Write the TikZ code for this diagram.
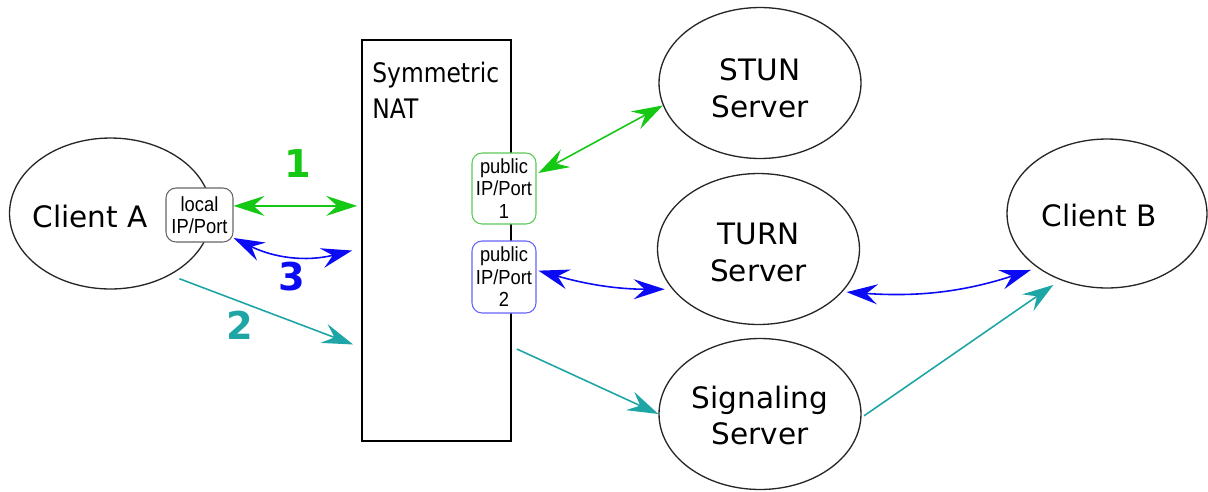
\documentclass[tikz,border=0pt]{standalone}
\usepackage{fontspec}
\setmainfont{DejaVu Sans}
\newfontfamily\natfont{DejaVu Sans}[FakeStretch=0.87]
\newfontfamily\portfont{Liberation Sans}[FakeStretch=0.9]
\usepackage{tikz}
\usetikzlibrary{shapes.geometric}
\usetikzlibrary{arrows.meta,calc}
\definecolor{natgreen}{RGB}{20,200,20}
\definecolor{natblue}{RGB}{10,10,245}
\definecolor{natteal}{RGB}{30,165,165}
\definecolor{pubgreen}{RGB}{90,200,90}
\definecolor{pubblue}{RGB}{100,100,250}

\begin{document}
\begin{tikzpicture}[x=0.02cm, y=-0.02cm,
  peer/.style={draw=black!85, line width=0.75pt, ellipse, minimum width=4.04cm, minimum height=3.02cm, inner sep=0pt},
  peertext/.style={inner sep=0pt, align=center, font=\fontsize{16.8}{21}\selectfont},
  port/.style={draw, line width=0.6pt, rounded corners=0.2cm, fill=white, inner sep=0pt, align=center, font=\portfont\fontsize{11.6}{12.8}\selectfont},
  link/.style={line width=0.9pt, >={Stealth[length=0.62cm, width=0.4cm, inset=0.22cm]}},
  num/.style={inner sep=0pt, font=\bfseries\fontsize{21.8}{26}\selectfont}
]
\useasboundingbox (0,0) rectangle (1208,491);
% hosts and the NAT box
\node[peer, label={[peertext, xshift=-0.41cm, yshift=-0.05cm]center:Client A}] (clientA) at (110.5,213.5) {};
\node[port, draw=black!60, minimum width=1.34cm, minimum height=1.08cm] (local) at (199.5,215) {local\\IP/Port};
\node[draw, line width=1pt, minimum width=2.98cm, minimum height=8.02cm, inner sep=0pt] (nat) at (436.5,240.5) {};
\node[anchor=north west, inner sep=0pt, align=left, font=\natfont\fontsize{15.3}{20.4}\selectfont] (natlabel) at (372,61.5) {Symmetric\\NAT};
\node[port, draw=pubgreen, minimum width=1.28cm, minimum height=1.42cm] (pub1) at (504,188.5) {public\\IP/Port\\1};
\node[port, draw=pubblue, minimum width=1.28cm, minimum height=1.44cm] (pub2) at (504,277) {public\\IP/Port\\2};
\node[peer, label={[peertext, yshift=-0.1cm]center:STUN\\Server}] (stun) at (760,83) {};
\node[peer, label={[peertext, yshift=-0.07cm]center:TURN\\Server}] (turn) at (758.5,249) {};
\node[peer, label={[peertext, yshift=-0.03cm]center:Signaling\\Server}] (sig) at (760,414) {};
\node[peer, minimum width=4cm, minimum height=2.98cm, label={[peertext, xshift=-0.16cm, yshift=-0.03cm]center:Client B}] (clientB) at (1107,213.5) {};
% connections
\draw[link, natgreen, <->, shorten >=0.08cm] (local.15) -- (local.15 -| nat.west) node[midway, above=0.56cm, num] (one) {1};
\draw[link, natblue, <->] (local.-34) to[bend right=20] node[midway, below=0.1cm, num] (three) {3} ($(nat.west)+(-9,10)$);
\draw[link, natteal, ->, shorten <=0.2cm] (clientA.-46) -- ($(nat.west)+(-8,104)$) node[pos=0.38, below=0.18cm, num] (two) {2};
\draw[link, natgreen, <->, shorten <=0.04cm] (pub1.24) -- (stun.193);
\draw[link, natblue, <->, shorten <=0.04cm, shorten >=0.15cm] (pub2.12) to[bend right=8] (turn.205);
\draw[link, natblue, <->, shorten <=0.08cm, shorten >=0.14cm] (turn.-27) to[bend right=11] (clientB.218);
\draw[link, natteal, ->] ($(nat.east)+(5,108.5)$) -- (sig.west);
\draw[link, natteal, ->, shorten <=0.06cm, shorten >=0.17cm] (sig.-2) -- (clientB.235);
\end{tikzpicture}
\end{document}
